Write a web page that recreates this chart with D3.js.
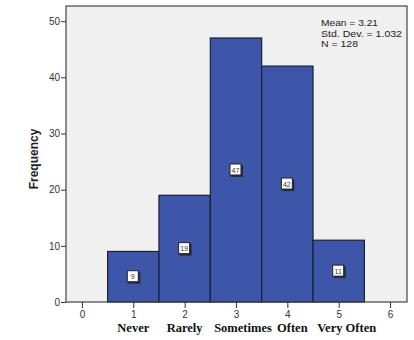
<!DOCTYPE html>
<html><head><meta charset="utf-8">
<script src="https://cdn.jsdelivr.net/npm/d3@7"></script>
<style>body{margin:0;background:#fff}svg{display:block}</style>
</head><body>
<svg id="c" width="414" height="340"></svg>
<script>
const categories = [1, 2, 3, 4, 5];
const frequencies = [9, 19, 47, 42, 11];
const categoryNames = ["Never", "Rarely", "Sometimes", "Often", "Very Often"];
const xTicks = [0, 1, 2, 3, 4, 5, 6];
const yTicks = [0, 10, 20, 30, 40, 50];
const statsLines = ["Mean = 3.21", "Std. Dev. = 1.032", "N = 128"];

const svg = d3.select("#c");
const L = 66, R = 407, T = 6, B = 302;
const x = d3.scaleLinear().domain([-0.31, 6.33]).range([L, R]);
const y = d3.scaleLinear().domain([0, 52.7]).range([B, T]);

svg.append("rect").attr("x", L).attr("y", T).attr("width", R - L).attr("height", B - T)
  .attr("fill", "#f0f0f0");

const g = svg.append("g");
g.selectAll("rect.bar").data(categories).join("rect").attr("class", "bar")
  .attr("x", d => x(d - 0.5)).attr("width", d => x(d + 0.5) - x(d - 0.5))
  .attr("y", (d, i) => y(frequencies[i])).attr("height", (d, i) => y(0) - y(frequencies[i]))
  .attr("fill", "#3d56a9").attr("stroke", "#1a1f33").attr("stroke-width", 1.2);

// value labels
const lab = g.selectAll("g.lab").data(categories).join("g").attr("class", "lab")
  .attr("transform", (d, i) => `translate(${x(d)},${y(frequencies[i] / 2)})`);
lab.append("rect").attr("x", -5).attr("y", -5).attr("width", 12).attr("height", 12)
  .attr("fill", "#222").attr("opacity", 0.8);
lab.append("rect").attr("x", -6).attr("y", -6).attr("width", 11).attr("height", 11)
  .attr("fill", "#fff").attr("stroke", "#222").attr("stroke-width", 1);
lab.append("text").attr("x", -0.5).attr("y", 2.5).attr("text-anchor", "middle")
  .attr("font-family", "Arial, Liberation Sans, sans-serif").attr("font-size", 7)
  .attr("fill", "#333").text((d, i) => frequencies[i]);

// frame
svg.append("rect").attr("x", L).attr("y", T).attr("width", R - L).attr("height", B - T)
  .attr("fill", "none").attr("stroke", "#444").attr("stroke-width", 1.2);

// y axis
const ya = svg.append("g").attr("transform", `translate(${L},0)`)
  .call(d3.axisLeft(y).tickValues(yTicks).tickSize(5).tickPadding(1).tickFormat(d3.format("d")));
ya.select(".domain").remove();
ya.selectAll("line").attr("stroke", "#333");
ya.selectAll("text").attr("font-family", "Arial, Liberation Sans, sans-serif").attr("font-size", 10).attr("fill", "#333");

// x axis
const xa = svg.append("g").attr("transform", `translate(0,${B})`)
  .call(d3.axisBottom(x).tickValues(xTicks).tickSize(6).tickPadding(3).tickFormat(d3.format("d")));
xa.select(".domain").remove();
xa.selectAll("line").attr("stroke", "#333");
xa.selectAll("text").attr("font-family", "Arial, Liberation Sans, sans-serif").attr("font-size", 10).attr("fill", "#333");

// category names
const nameOffset = [0, 0, 7, 5, 8];
svg.append("g").selectAll("text").data(categories).join("text")
  .attr("x", (d, i) => x(d) + nameOffset[i]).attr("y", 332).attr("text-anchor", "middle")
  .attr("font-family", "Liberation Serif, Times New Roman, serif").attr("font-weight", "bold")
  .attr("font-size", 12.5).attr("fill", "#111").text((d, i) => categoryNames[i]);

// y title
svg.append("text").attr("transform", `translate(38,${(T + B) / 2 + 5}) rotate(-90)`)
  .attr("text-anchor", "middle").attr("font-family", "Arial, Liberation Sans, sans-serif")
  .attr("font-weight", "bold").attr("font-size", 12).attr("fill", "#222").text("Frequency");

// stats
svg.append("g").selectAll("text").data(statsLines).join("text")
  .attr("x", 321).attr("y", (d, i) => 26 + i * 10.5)
  .attr("font-family", "Arial, Liberation Sans, sans-serif").attr("font-size", 9)
  .attr("fill", "#222")
  .attr("textLength", (d, i) => [57, 81, 37][i]).attr("lengthAdjust", "spacingAndGlyphs")
  .text(d => d);
</script>
</body></html>
